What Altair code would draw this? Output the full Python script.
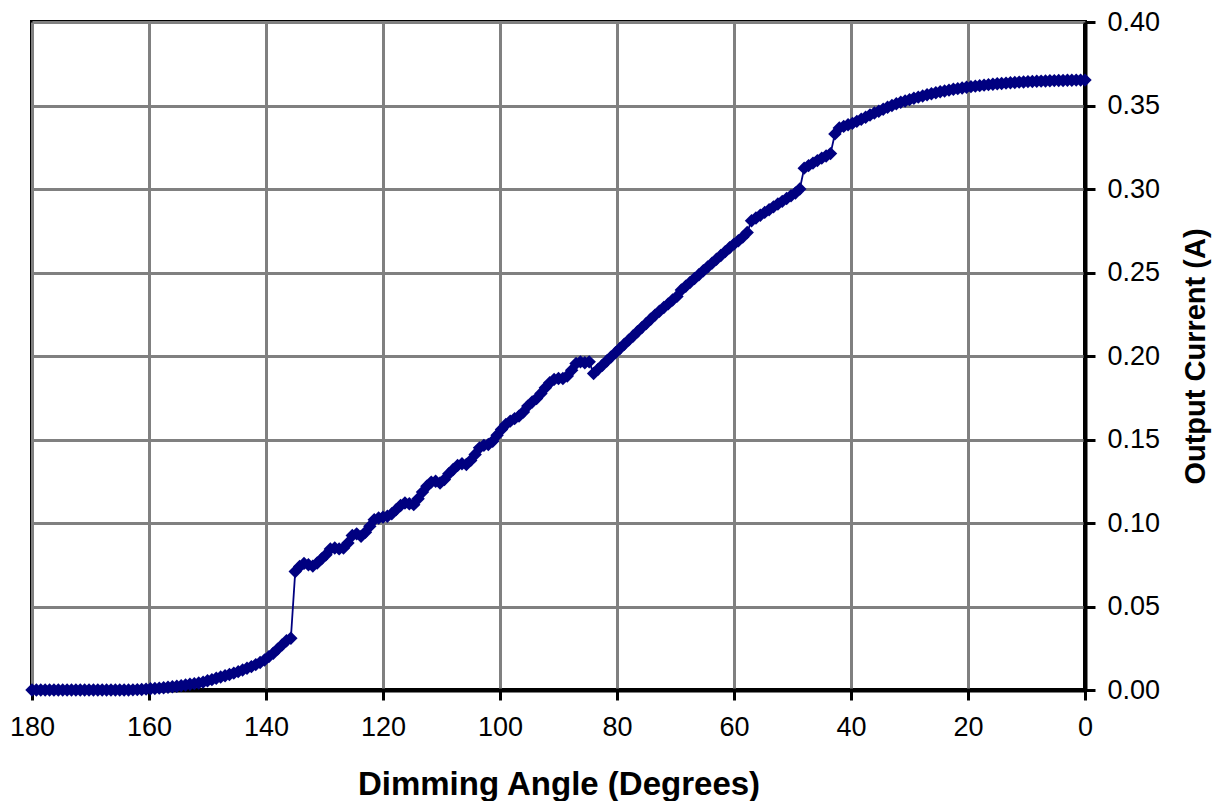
import altair as alt
import pandas as pd

ANGLE = [
    180, 179.25, 178.5, 177.75,
    177, 176.25, 175.5, 174.75,
    174, 173.25, 172.5, 171.75,
    171, 170.25, 169.5, 168.75,
    168, 167.25, 166.5, 165.75,
    165, 164.25, 163.5, 162.75,
    162, 161.25, 160.5, 159.75,
    159, 158.25, 157.5, 156.75,
    156, 155.25, 154.5, 153.75,
    153, 152.25, 151.5, 150.75,
    150, 149.25, 148.5, 147.75,
    147, 146.25, 145.5, 144.75,
    144, 143.25, 142.5, 141.75,
    141, 140.25, 139.5, 138.75,
    138, 137.25, 136.5, 135.75,
    135, 134.25, 133.5, 132.75,
    132, 131.25, 130.5, 129.75,
    129, 128.25, 127.5, 126.75,
    126, 125.25, 124.5, 123.75,
    123, 122.25, 121.5, 120.75,
    120, 119.25, 118.5, 117.75,
    117, 116.25, 115.5, 114.75,
    114, 113.25, 112.5, 111.75,
    111, 110.25, 109.5, 108.75,
    108, 107.25, 106.5, 105.75,
    105, 104.25, 103.5, 102.75,
    102, 101.25, 100.5, 99.75,
    99, 98.25, 97.5, 96.75,
    96, 95.25, 94.5, 93.75,
    93, 92.25, 91.5, 90.75,
    90, 89.25, 88.5, 87.75,
    87, 86.25, 85.5, 84.75,
    84, 83.25, 82.5, 81.75,
    81, 80.25, 79.5, 78.75,
    78, 77.25, 76.5, 75.75,
    75, 74.25, 73.5, 72.75,
    72, 71.25, 70.5, 69.75,
    69, 68.25, 67.5, 66.75,
    66, 65.25, 64.5, 63.75,
    63, 62.25, 61.5, 60.75,
    60, 59.25, 58.5, 57.75,
    57, 56.25, 55.5, 54.75,
    54, 53.25, 52.5, 51.75,
    51, 50.25, 49.5, 48.75,
    48, 47.25, 46.5, 45.75,
    45, 44.25, 43.5, 42.75,
    42, 41.25, 40.5, 39.75,
    39, 38.25, 37.5, 36.75,
    36, 35.25, 34.5, 33.75,
    33, 32.25, 31.5, 30.75,
    30, 29.25, 28.5, 27.75,
    27, 26.25, 25.5, 24.75,
    24, 23.25, 22.5, 21.75,
    21, 20.25, 19.5, 18.75,
    18, 17.25, 16.5, 15.75,
    15, 14.25, 13.5, 12.75,
    12, 11.25, 10.5, 9.75,
    9, 8.25, 7.5, 6.75,
    6, 5.25, 4.5, 3.75,
    3, 2.25, 1.5, 0.75,
    0,
]

CURRENT = [
    0.0, 0.0, 0.0, 0.0,
    0.0, 0.0, 0.0, 0.0,
    0.0, 0.0, 0.0, 0.0,
    0.0, 0.0, 0.0, 0.0,
    0.0, 0.0, 0.0, 0.0,
    0.0, 0.0, 0.0, 0.0001,
    0.0002, 0.0003, 0.0005, 0.0007,
    0.0009, 0.0011, 0.0013, 0.0016,
    0.0019, 0.0022, 0.0026, 0.0030,
    0.0034, 0.0038, 0.0042, 0.0047,
    0.0055, 0.0062, 0.0070, 0.0078,
    0.0085, 0.0093, 0.0101, 0.0110,
    0.0120, 0.0130, 0.0140, 0.0152,
    0.0165, 0.0180, 0.0200, 0.0220,
    0.0245, 0.0270, 0.0295, 0.0310,
    0.0710, 0.0740, 0.0758, 0.0750,
    0.0742, 0.0760, 0.0785, 0.0810,
    0.0845, 0.0850, 0.0845, 0.0850,
    0.0880, 0.0925, 0.0935, 0.0920,
    0.0945, 0.0980, 0.1020, 0.1030,
    0.1035, 0.1040, 0.1055, 0.1080,
    0.1105, 0.1120, 0.1115, 0.1110,
    0.1145, 0.1185, 0.1220, 0.1245,
    0.1250, 0.1240, 0.1260, 0.1295,
    0.1320, 0.1345, 0.1355, 0.1350,
    0.1375, 0.1410, 0.1450, 0.1465,
    0.1470, 0.1490, 0.1525, 0.1560,
    0.1590, 0.1610, 0.1625, 0.1640,
    0.1665, 0.1700, 0.1725, 0.1745,
    0.1775, 0.1810, 0.1840, 0.1860,
    0.1865, 0.1865, 0.1880, 0.1915,
    0.1955, 0.1965, 0.1960, 0.1965,
    0.1895, 0.1920, 0.1945, 0.1970,
    0.1995, 0.2020, 0.2045, 0.2070,
    0.2095, 0.2120, 0.2145, 0.2170,
    0.2195, 0.2220, 0.2245, 0.2268,
    0.2290, 0.2312, 0.2335, 0.2357,
    0.2395, 0.2418, 0.2441, 0.2464,
    0.2487, 0.2510, 0.2533, 0.2556,
    0.2579, 0.2602, 0.2625, 0.2648,
    0.2670, 0.2690, 0.2712, 0.2740,
    0.2810, 0.2826, 0.2843, 0.2860,
    0.2876, 0.2893, 0.2910, 0.2926,
    0.2943, 0.2960, 0.2976, 0.3000,
    0.3125, 0.3140, 0.3155, 0.3170,
    0.3185, 0.3198, 0.3212, 0.3330,
    0.3365, 0.3375, 0.3385, 0.3393,
    0.3405, 0.3418, 0.3430, 0.3443,
    0.3455, 0.3466, 0.3478, 0.3490,
    0.3500, 0.3510, 0.3519, 0.3527,
    0.3535, 0.3543, 0.3550, 0.3557,
    0.3564, 0.3570, 0.3576, 0.3582,
    0.3587, 0.3592, 0.3597, 0.3601,
    0.3605, 0.3609, 0.3613, 0.3616,
    0.3619, 0.3622, 0.3625, 0.3627,
    0.3630, 0.3632, 0.3634, 0.3636,
    0.3638, 0.3640, 0.3641, 0.3643,
    0.3644, 0.3645, 0.3646, 0.3647,
    0.3648, 0.3649, 0.3650, 0.3650,
    0.3651, 0.3651, 0.3652, 0.3652,
    0.3652,
]

X_TICKS = [180, 160, 140, 120, 100, 80, 60, 40, 20, 0]
Y_TICKS = [0.0, 0.05, 0.10, 0.15, 0.20, 0.25, 0.30, 0.35, 0.40]

df = pd.DataFrame({"angle": ANGLE, "current": CURRENT, "order": list(range(len(ANGLE)))})

FONT = "Liberation Sans"
NAVY = "#000080"

x_enc = alt.X(
    "angle:Q",
    scale=alt.Scale(domain=[0, 180], reverse=True, nice=False, zero=False),
    axis=alt.Axis(
        values=X_TICKS,
        title="Dimming Angle (Degrees)",
        labelFontSize=27,
        titleFontSize=33,
        titleFontWeight="bold",
        labelFlush=False,
        labelPadding=14,
        titlePadding=28,
        tickSize=10,
        tickWidth=3,
        tickColor="black",
        domainColor="black",
        domainWidth=4,
        gridColor="#808080",
        gridWidth=3,
        labelColor="black",
        titleColor="black",
        labelFont=FONT,
        titleFont=FONT,
    ),
)
y_enc = alt.Y(
    "current:Q",
    scale=alt.Scale(domain=[0, 0.40], nice=False),
    axis=alt.Axis(
        orient="right",
        values=Y_TICKS,
        format=".2f",
        title="Output Current (A)",
        titleAngle=270,
        titleBaseline="top",
        labelFontSize=27,
        titleFontSize=29,
        titleFontWeight="bold",
        labelFlush=False,
        labelPadding=12,
        titlePadding=22,
        tickSize=10,
        tickWidth=3,
        tickColor="black",
        domainColor="black",
        domainWidth=4,
        gridColor="#808080",
        gridWidth=3,
        labelColor="black",
        titleColor="black",
        labelFont=FONT,
        titleFont=FONT,
    ),
)

line = alt.Chart(df).mark_line(color=NAVY, strokeWidth=1.8).encode(
    x=x_enc, y=y_enc, order="order:Q"
)
pts = alt.Chart(df).mark_point(
    shape="diamond", filled=True, size=180, color=NAVY, opacity=1
).encode(x="angle:Q", y="current:Q")

chart = (
    alt.layer(line, pts)
    .properties(
        width=1053,
        height=668,
        autosize=alt.AutoSizeParams(type="none"),
        padding={"left": 24, "top": 14, "right": 134, "bottom": 111},
        background="white",
    )
    .configure_view(stroke="black", strokeWidth=4)
)

chart.save("out.html", embed_options={"renderer": "svg", "actions": False})
